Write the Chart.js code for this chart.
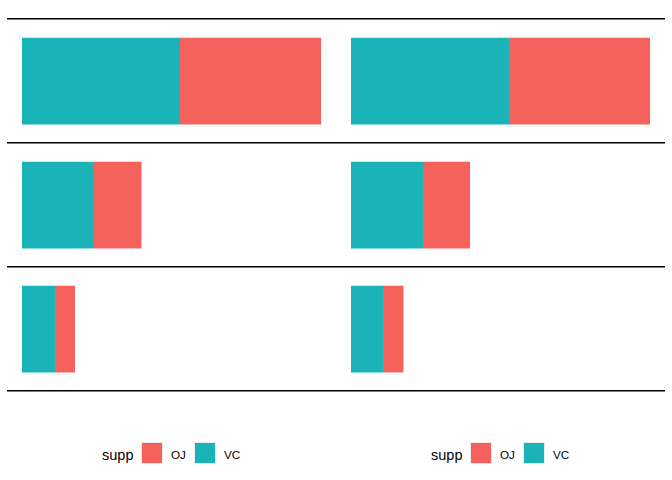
<!DOCTYPE html>
<html>
<head>
<meta charset="utf-8">
<script src="https://cdn.jsdelivr.net/npm/chart.js@4/dist/chart.umd.min.js"></script>
<style>
  html, body { margin: 0; padding: 0; background: #ffffff; }
  body { width: 672px; height: 480px; position: relative; overflow: hidden; font-family: "Liberation Sans", Arial, sans-serif; }
  .panel { position: absolute; top: 0; width: 336px; height: 400px; }
  .panel canvas { width: 336px !important; height: 400px !important; }
  .lg { position: absolute; top: 442px; height: 22px; line-height: 22px; color: #000; }
  .lg-title { font-size: 14.5px; }
  .lg-label { font-size: 11.7px; }
  .lg-box { position: absolute; top: 442px; width: 20px; height: 20px; border: 1px solid #ebebeb; }
</style>
</head>
<body>
<div class="panel" style="left:0px"><canvas id="c1" width="336" height="400"></canvas></div>
<div class="panel" style="left:336px"><canvas id="c2" width="336" height="400"></canvas></div>
<div id="legends"></div>
<script>
// categories (rows, top to bottom)
const categories = ["A", "B", "C"];
// series values, left panel
const leftVC = [158, 72, 33];
const leftOJ = [141, 47.5, 20];
// series values, right panel
const rightVC = [158, 72, 32];
const rightOJ = [141, 47, 20.5];
// legend
const legendTitle = "supp";
const seriesNames = ["OJ", "VC"];
const colors = { OJ: "#F5615D", VC: "#1AB3B7" };

function makeChart(id, vc, oj, padLeft, padRight) {
  const totals = vc.map((v, i) => v + oj[i]);
  const maxT = Math.max(...totals);
  return new Chart(document.getElementById(id), {
    type: "bar",
    data: {
      labels: categories,
      datasets: [
        { label: "VC", data: vc, backgroundColor: colors.VC, borderWidth: 0 },
        { label: "OJ", data: oj, backgroundColor: colors.OJ, borderWidth: 0 }
      ]
    },
    options: {
      indexAxis: "y",
      responsive: false,
      animation: false,
      devicePixelRatio: 1,
      layout: { padding: { left: padLeft, right: padRight, top: 19.2, bottom: 9 } },
      datasets: { bar: { barPercentage: 0.7, categoryPercentage: 1.0 } },
      plugins: { legend: { display: false }, tooltip: { enabled: false } },
      scales: {
        x: { stacked: true, display: false, min: -0.05 * maxT, max: 1.05 * maxT },
        y: {
          stacked: true,
          display: true,
          offset: true,
          border: { display: false },
          ticks: { display: false },
          grid: { offset: true, drawTicks: false, color: "#000000", lineWidth: 1.6 }
        }
      }
    }
  });
}

makeChart("c1", leftVC, leftOJ, 7, 0);
makeChart("c2", rightVC, rightOJ, 0, 7);

// legends
const lg = document.getElementById("legends");
[0, 329].forEach(off => {
  const t = document.createElement("span");
  t.className = "lg lg-title"; t.textContent = legendTitle;
  t.style.left = (102 + off) + "px"; t.style.top = "444px";
  lg.appendChild(t);
  const boxX = [141, 194], textX = [171, 224];
  seriesNames.forEach((n, i) => {
    const b = document.createElement("div");
    b.className = "lg-box"; b.style.left = (boxX[i] + off) + "px"; b.style.background = colors[n];
    lg.appendChild(b);
    const s = document.createElement("span");
    s.className = "lg lg-label"; s.textContent = n;
    s.style.left = (textX[i] + off) + "px"; s.style.top = "444px";
    lg.appendChild(s);
  });
});
</script>
</body>
</html>
